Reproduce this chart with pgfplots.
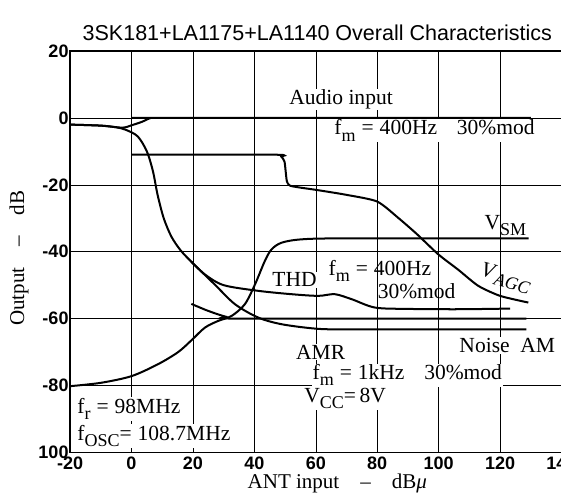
\documentclass[border=0pt]{standalone}
\usepackage{fontspec}
\setmainfont{Liberation Serif}
\setsansfont{Liberation Sans}
\usepackage{pgfplots}
\pgfplotsset{compat=1.18}
\newcommand{\sub}[1]{\raisebox{-0.28em}{\fontsize{18}{18}\selectfont #1}}

\begin{document}
\begin{tikzpicture}[
    txt/.style={font=\fontsize{21.5}{21.5}\selectfont, fill=white, inner sep=1pt},
    crv/.style={black, line width=2pt, smooth, tension=0.5},
]
\begin{axis}[
    scale only axis,
    width=491pt, height=401pt,
    xmin=-20, xmax=140, ymin=-100, ymax=20,
    xtick={-20,0,...,140},
    ytick={-100,-80,...,20},
    xticklabels={-20,0,20,40,60,80,100,120,140},
    yticklabels={100,-80,-60,-40,-20,0,20},
    grid=major,
    grid style={black, line width=0.5pt},
    major tick length=0pt,
    axis line style={line width=1.4pt},
    tick label style={font=\sffamily\bfseries\fontsize{18}{18}\selectfont},
    xticklabel style={yshift=-1pt},
    yticklabel style={xshift=2pt},
]
% audio input
\addplot[crv] coordinates {
    (-20,-2) (-10,-2.3) (-3,-2.9) (0,-2.2) (3.3,-1.2) (6,-0.1) (8,0) (130,0)
};
% noise
\addplot[crv] coordinates {
    (-20,-2) (-10,-2.3) (-5,-2.8) (-2,-3.5) (2,-5.5) (5,-10) (7,-16) (8.5,-23)
    (10.5,-30) (13,-35.5) (16,-39.6) (19.5,-43) (27.1,-49.8) (33.7,-55.7)
    (41.3,-59.7) (49,-61.7) (60,-63) (70,-63.2) (128.6,-63.2)
};
% THD
\addplot[crv] coordinates {
    (19.5,-43) (23.9,-46.8) (30,-50) (41.3,-51.7) (52.1,-52.7) (60.8,-53.2)
    (66.2,-52.7) (71.7,-54.2) (79.3,-56.7) (90,-57.1) (106.4,-57.2) (123.3,-57)
};
% AM
\addplot[crv] coordinates {
    (19.5,-55.6) (25,-57.7) (31,-59.5) (36,-60) (128.6,-60)
};
% V_SM
\addplot[crv] coordinates {
    (-20,-80.2) (-10,-79.2) (0,-77.2) (8.7,-73.6) (15.2,-70) (19.5,-66.5)
    (23.9,-62.7) (28.2,-60.7) (32.6,-59.2) (36.9,-55.7) (40.2,-49.8)
    (43.4,-42.8) (45.6,-39.3) (48.9,-37.3) (55.4,-36.3) (70,-36) (129.3,-36)
};
% V_AGC
\addplot[crv, tension=0.4] coordinates {
    (0,-11) (47,-11) (48.8,-11.6) (49.8,-13) (50.2,-16) (50.6,-19) (51.5,-20.2)
    (54,-20.7) (60,-21.5) (70,-23) (80,-25) (87,-30) (93,-34.8) (99.9,-40.8)
    (106.4,-45.4) (112.9,-50.2) (120,-53.2) (129.2,-55.2)
};

\node[txt, anchor=base west] at (axis cs:51,3.9) {Audio input};
\node[txt, anchor=base west] at (axis cs:65.7,-5.1) {f\sub{m}\;=\;400Hz\enspace\, 30\%mod};
\node[txt, anchor=base west, fill=none] at (axis cs:114.6,-33.3) {V\sub{SM}};
\node[txt, anchor=base west, fill=none, rotate=-15, inner sep=0pt] at (axis cs:113.4,-47.0) {\textit{V}\sub{\itshape AGC}};
\node[txt, anchor=base west] at (axis cs:45.5,-50.5) {THD};
\node[txt, anchor=base west, fill=none] at (axis cs:63.8,-47.2) {f\sub{m}\;=\;400Hz};
\node[txt, anchor=base west, fill=none] at (axis cs:79.8,-54.1) {30\%mod};
\node[txt, anchor=base west] at (axis cs:106.4,-70.1) {Noise\enspace AM};
\node[txt, anchor=base west] at (axis cs:53.2,-72.1) {AMR};
\node[txt, anchor=base west] at (axis cs:58.6,-78.3) {f\sub{m}\;=\;1kHz\enspace\, 30\%mod};
\node[txt, anchor=base west] at (axis cs:55.9,-85.1) {V\sub{CC}=\,8V};
\node[txt, anchor=base west] at (axis cs:-18,-88.4) {f\sub{r}\;=\;98MHz};
\node[txt, anchor=base west] at (axis cs:-18,-96.4) {f\sub{OSC}=\;108.7MHz};
\end{axis}
\node[font=\sffamily\fontsize{21.5}{21.5}\selectfont] at (247pt,419pt) {3SK181+LA1175+LA1140 Overall Characteristics};
\node[font=\fontsize{21}{21}\selectfont, rotate=90] at (-51pt,194pt) {Output\quad --\quad dB};
\node[font=\fontsize{21}{21}\selectfont] at (267pt,-31pt) {ANT input\quad --\quad dB{\itshape μ}};
\pgfresetboundingbox
\path[use as bounding box] (-70pt,-42pt) rectangle (490.5pt,452pt);
\end{tikzpicture}
\end{document}
